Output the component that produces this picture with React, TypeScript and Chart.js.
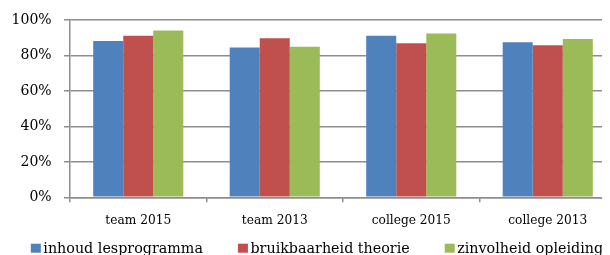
import React, { useEffect, useRef } from "react";
import { Chart, registerables } from "chart.js";

Chart.register(...registerables);

const categories = ["team 2015", "team 2013", "college 2015", "college 2013"];
const seriesNames = ["inhoud lesprogramma", "bruikbaarheid theorie", "zinvolheid opleiding"];
const inhoud = [88.1, 84.4, 91.0, 87.4];
const bruikbaarheid = [91.1, 89.6, 86.8, 85.7];
const zinvolheid = [94.0, 84.9, 92.3, 89.3];
const colors = ["#4F81BD", "#C0504D", "#9BBB59"];
const yTicks = [0, 20, 40, 60, 80, 100];

const FONT = "'DejaVu Serif', serif";
const GRID = "#8e8e8e";

const bottomLegend = {
  id: "bottomLegend",
  afterDraw(chart: any) {
    const ctx = chart.ctx as CanvasRenderingContext2D;
    const ds = chart.data.datasets;
    ctx.save();
    ctx.font = `14.3px ${FONT}`;
    ctx.textBaseline = "alphabetic";
    ctx.textAlign = "left";
    const box = 10;
    const boxGap = 2.5;
    const itemGap = 35;
    const widths = ds.map((d: any) => box + boxGap + ctx.measureText(d.label).width);
    const total = widths.reduce((a: number, b: number) => a + b, 0) + itemGap * (ds.length - 1);
    let x = chart.width / 2 - total / 2;
    const baseline = 244.7;
    ds.forEach((d: any, i: number) => {
      ctx.fillStyle = d.backgroundColor;
      ctx.fillRect(x, baseline - 9, box, 9);
      ctx.fillStyle = "#000";
      ctx.fillText(d.label, x + box + boxGap, baseline);
      x += widths[i] + itemGap;
    });
    ctx.restore();
  },
};

export default function App() {
  const ref = useRef<HTMLCanvasElement | null>(null);
  useEffect(() => {
    document.documentElement.style.overflow = "hidden";
    document.body.style.overflow = "hidden";
    const canvas = ref.current;
    if (!canvas) return;
    const values = [inhoud, bruikbaarheid, zinvolheid];
    const chart = new Chart(canvas, {
      type: "bar",
      data: {
        labels: categories,
        datasets: seriesNames.map((name, i) => ({
          label: name,
          data: values[i],
          backgroundColor: colors[i],
          borderWidth: 0,
          categoryPercentage: 0.66,
          barPercentage: 1.0,
        })),
      },
      plugins: [bottomLegend],
      options: {
        responsive: false,
        animation: false,
        layout: { padding: { left: 0, right: 10, top: 0, bottom: 21 } },
        plugins: {
          tooltip: { enabled: false },
          legend: { display: false },
        },
        scales: {
          x: {
            grid: {
              offset: true,
              drawOnChartArea: false,
              drawTicks: true,
              tickLength: 5,
              color: GRID,
              lineWidth: 1.5,
            },
            border: { color: GRID, width: 1.5 },
            ticks: { font: { family: FONT, size: 12.2 }, color: "#000", padding: 11 },
          },
          y: {
            min: 0,
            max: 100,
            afterBuildTicks: (axis: any) => {
              axis.ticks = yTicks.map((v) => ({ value: v }));
            },
            afterFit: (scale: any) => {
              scale.width = 62;
            },
            grid: { color: GRID, lineWidth: 1.5, tickLength: 6, drawTicks: true },
            border: { color: GRID, width: 1.5 },
            ticks: {
              font: { family: FONT, size: 14 },
              color: "#000",
              padding: 3.5,
              callback: (v: any) => v + "%  ",
            },
          },
        },
      },
    });
    return () => chart.destroy();
  }, []);
  return <canvas ref={ref} width={618} height={252} style={{ display: "block" }} />;
}
